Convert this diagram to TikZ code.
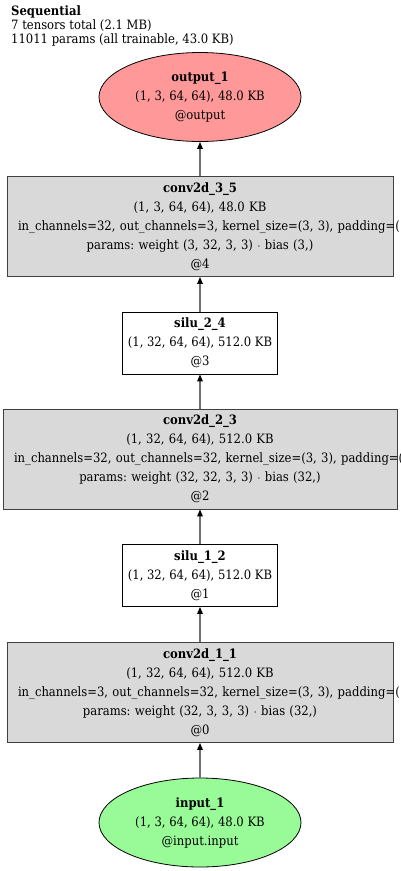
\documentclass[tikz,border=0pt]{standalone}
\usepackage{fontspec}
\setmainfont{DejaVu Serif Condensed}
\frenchspacing
\usetikzlibrary{shapes.geometric,arrows.meta}
\definecolor{outred}{HTML}{FF9999}
\definecolor{ingreen}{HTML}{98FB98}
\definecolor{layergray}{HTML}{D9D9D9}
\definecolor{edgegray}{HTML}{707070}
\tikzset{
  every node/.style={font=\fontsize{12.9}{19}\selectfont},
  tensor/.style={ellipse,draw,line width=.8pt,minimum width=202pt,minimum height=89pt,inner sep=0pt,align=center},
  layer/.style={rectangle,draw=black!75,line width=.8pt,fill=layergray,minimum height=100pt,inner xsep=11pt,inner ysep=0pt,align=center},
  act/.style={rectangle,draw,line width=.8pt,fill=white,minimum width=155pt,minimum height=62pt,inner sep=0pt,align=center},
  flow/.style={edgegray,line width=1.3pt,-{Triangle[length=7pt,width=5.5pt,black]}},
}
\begin{document}
\begin{tikzpicture}[x=1pt,y=-1pt]
\useasboundingbox (0,0) rectangle (400,871);
\node[anchor=north west,align=left,inner sep=0pt,font=\fontsize{12.9}{14}\selectfont] (title) at (11,5)
  {\textbf{Sequential}\\7 tensors total (2.1 MB)\\11011 params (all trainable, 43.0 KB)};
\node[tensor,fill=outred] (out) at (200,97) {\textbf{output\_1}\\(1, 3, 64, 64), 48.0 KB\\@output};
\node[layer,text width=364pt] (c3) at (200,226.5) {\textbf{conv2d\_3\_5}\\(1, 3, 64, 64), 48.0 KB\\
  \mbox{in\_channels=32, out\_channels=3, kernel\_size=(3, 3), padding=(1, 1)}\\params: weight (3, 32, 3, 3) $\cdot$ bias (3,)\\@4};
\node[act] (s2) at (200,343) {\textbf{silu\_2\_4}\\(1, 32, 64, 64), 512.0 KB\\@3};
\node[layer,text width=372pt] (c2) at (200,459) {\textbf{conv2d\_2\_3}\\(1, 32, 64, 64), 512.0 KB\\
  \mbox{in\_channels=32, out\_channels=32, kernel\_size=(3, 3), padding=(1, 1)}\\params: weight (32, 32, 3, 3) $\cdot$ bias (32,)\\@2};
\node[act] (s1) at (200,575.5) {\textbf{silu\_1\_2}\\(1, 32, 64, 64), 512.0 KB\\@1};
\node[layer,text width=364pt] (c1) at (200,692.5) {\textbf{conv2d\_1\_1}\\(1, 32, 64, 64), 512.0 KB\\
  \mbox{in\_channels=3, out\_channels=32, kernel\_size=(3, 3), padding=(1, 1)}\\params: weight (32, 3, 3, 3) $\cdot$ bias (32,)\\@0};
\node[tensor,fill=ingreen] (in) at (200,822.5) {\textbf{input\_1}\\(1, 3, 64, 64), 48.0 KB\\@input.input};
\draw[flow] (in) -- (c1);
\draw[flow] (c1) -- (s1);
\draw[flow] (s1) -- (c2);
\draw[flow] (c2) -- (s2);
\draw[flow] (s2) -- (c3);
\draw[flow] (c3) -- (out);
\end{tikzpicture}
\end{document}
